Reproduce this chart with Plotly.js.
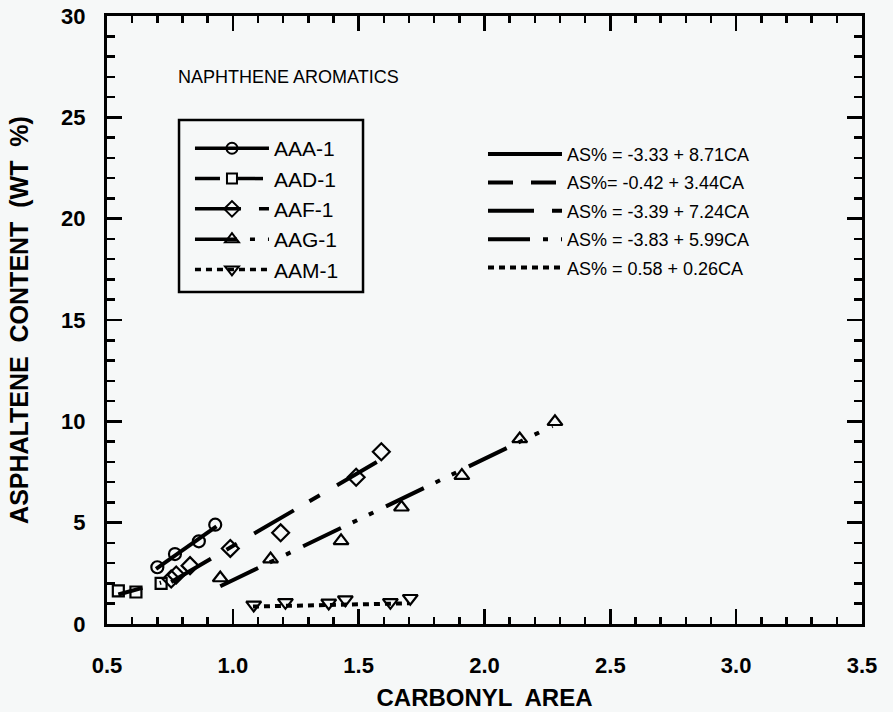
<!DOCTYPE html>
<html>
<head>
<meta charset="utf-8">
<script src="https://cdn.plot.ly/plotly-3.0.1.min.js"></script>
<style>
  html, body { margin: 0; padding: 0; background: #f6f8f8; }
  #chart { width: 893px; height: 712px; }
</style>
</head>
<body>
<div id="chart"></div>
<script>
// ---- data ----
const categories = ['AAA-1', 'AAD-1', 'AAF-1', 'AAG-1', 'AAM-1'];

const xAAA = [0.70, 0.77, 0.865, 0.93];
const yAAA = [2.80, 3.45, 4.08, 4.90];

const xAAD = [0.545, 0.615, 0.715];
const yAAD = [1.63, 1.58, 2.00];

const xAAF = [0.755, 0.775, 0.83, 0.99, 1.19, 1.49, 1.59];
const yAAF = [2.22, 2.42, 2.88, 3.73, 4.50, 7.24, 8.50];

const xAAG = [0.95, 1.15, 1.43, 1.67, 1.91, 2.14, 2.28];
const yAAG = [2.27, 3.20, 4.10, 5.76, 7.32, 9.13, 9.98];

const xAAM = [1.083, 1.209, 1.381, 1.447, 1.626, 1.705];
const yAAM = [0.94, 1.07, 1.04, 1.20, 1.07, 1.27];

// regression lines: AS% = intercept + slope * CA, drawn over the read x-span
const intercepts = [-3.33, -0.42, -3.39, -3.83, 0.58];
const slopes = [8.71, 3.44, 7.24, 5.99, 0.26];
const fitStart = [0.695, 0.545, 0.755, 0.95, 1.08];
const fitEnd = [0.935, 0.715, 1.59, 2.27, 1.70];
const equationLabels = [
  'AS% = -3.33 + 8.71CA',
  'AS%= -0.42 + 3.44CA',
  'AS% = -3.39 + 7.24CA',
  'AS% = -3.83 + 5.99CA',
  'AS% = 0.58 + 0.26CA'
];

const xTickVals = [0.5, 1.0, 1.5, 2.0, 2.5, 3.0, 3.5];
const xTickText = ['0.5', '1.0', '1.5', '2.0', '2.5', '3.0', '3.5'];
const yTickVals = [0, 5, 10, 15, 20, 25, 30];
const yTickText = ['0', '5', '10', '15', '20', '25', '30'];

// ---- styles ----
const seriesX = [xAAA, xAAD, xAAF, xAAG, xAAM];
const seriesY = [yAAA, yAAD, yAAF, yAAG, yAAM];
const symbols = ['circle-open', 'square-open', 'diamond-open', 'triangle-up-open', 'triangle-down-open'];
const dashes = ['solid', '25px,18px', '46px,18px,12px,20px', '42px,13px,5px,13px,5px,14px', '6px,5px'];
const markerSizes = [12, 11, 13, 13, 13];

const FONT = 'Liberation Sans, Arial, Helvetica, sans-serif';
const bold = s => '<b>' + s + '</b>';
const traces = [];

// data points
for (let i = 0; i < categories.length; i++) {
  traces.push({
    type: 'scatter', mode: 'markers',
    x: seriesX[i], y: seriesY[i],
    name: categories[i], showlegend: false,
    marker: { symbol: symbols[i], size: markerSizes[i], color: '#000', line: { width: 2.2, color: '#000' } },
    cliponaxis: false
  });
}
// regression lines -> equation legend
for (let i = 0; i < categories.length; i++) {
  const xs = [fitStart[i], fitEnd[i]];
  traces.push({
    type: 'scatter', mode: 'lines',
    x: xs, y: xs.map(v => intercepts[i] + slopes[i] * v),
    name: equationLabels[i], legend: 'legend2', legendgroup: 'eq' + i,
    line: { color: '#000', width: 4, dash: dashes[i] }
  });
}
// legend entries for the samples (line + marker)
for (let i = 0; i < categories.length; i++) {
  traces.push({
    type: 'scatter', mode: 'lines+markers',
    x: [null], y: [null],
    name: categories[i], legend: 'legend', legendgroup: 'g' + i,
    line: { color: '#000', width: 3.5, dash: dashes[i] },
    marker: { symbol: symbols[i], size: markerSizes[i] - 1, color: '#000', line: { width: 2, color: '#000' } }
  });
}

const axisCommon = {
  showgrid: false, zeroline: false,
  showline: true, linecolor: '#000', linewidth: 3,
  mirror: 'ticks', ticks: 'inside', ticklen: 15, tickwidth: 2.5, tickcolor: '#000',
  tickfont: { family: FONT, size: 22, color: '#000', weight: 'bold' }
};

const layout = {
  width: 893, height: 712,
  paper_bgcolor: '#f6f8f8', plot_bgcolor: '#f6f8f8',
  margin: { l: 107, r: 31, t: 16, b: 88 },
  font: { family: FONT, color: '#000' },
  xaxis: Object.assign({}, axisCommon, {
    range: [0.5, 3.5], tickvals: xTickVals, ticktext: xTickText.map(bold),
    ticklabelstandoff: 20,
    minor: { dtick: 0.1, tick0: 0.5, ticks: 'inside', ticklen: 7, tickwidth: 2.5, tickcolor: '#000', showgrid: false },
    title: { text: 'CARBONYL  AREA', font: { family: FONT, size: 24, color: '#000', weight: 'bold' }, standoff: 12 }
  }),
  yaxis: Object.assign({}, axisCommon, {
    range: [0, 30], tickvals: yTickVals, ticktext: yTickText.map(bold),
    ticklabelstandoff: 14,
    minor: { dtick: 1, tick0: 0, ticks: 'inside', ticklen: 8, tickwidth: 2.5, tickcolor: '#000', showgrid: false },
    title: { text: 'ASPHALTENE  CONTENT  (WT  %)', font: { family: FONT, size: 25, color: '#000', weight: 'bold' }, standoff: 26 }
  }),
  legend: {
    x: 0.1099, y: 0.8156, xanchor: 'left', yanchor: 'top',
    bgcolor: 'rgba(0,0,0,0)', borderwidth: 0,
    font: { family: FONT, size: 21, color: '#000' },
    itemwidth: 74, traceorder: 'grouped', tracegroupgap: 0
  },
  legend2: {
    x: 0.498, y: 0.803, xanchor: 'left', yanchor: 'top',
    bgcolor: 'rgba(0,0,0,0)', borderwidth: 0,
    font: { family: FONT, size: 18, color: '#000' },
    itemwidth: 74, traceorder: 'grouped', tracegroupgap: 2
  },
  shapes: [{
    type: 'rect', xref: 'paper', yref: 'paper', layer: 'above',
    x0: 0.0954, x1: 0.3391, y0: 0.546, y1: 0.8289,
    line: { color: '#000', width: 2.5 }, fillcolor: 'rgba(0,0,0,0)'
  }],
  annotations: [{
    xref: 'paper', yref: 'paper', x: 0.0914, y: 0.90, xanchor: 'left', yanchor: 'middle',
    text: 'NAPHTHENE AROMATICS', showarrow: false,
    font: { family: FONT, size: 18, color: '#000' }
  }]
};

Plotly.newPlot('chart', traces, layout, { displayModeBar: false, staticPlot: true });
</script>
</body>
</html>
